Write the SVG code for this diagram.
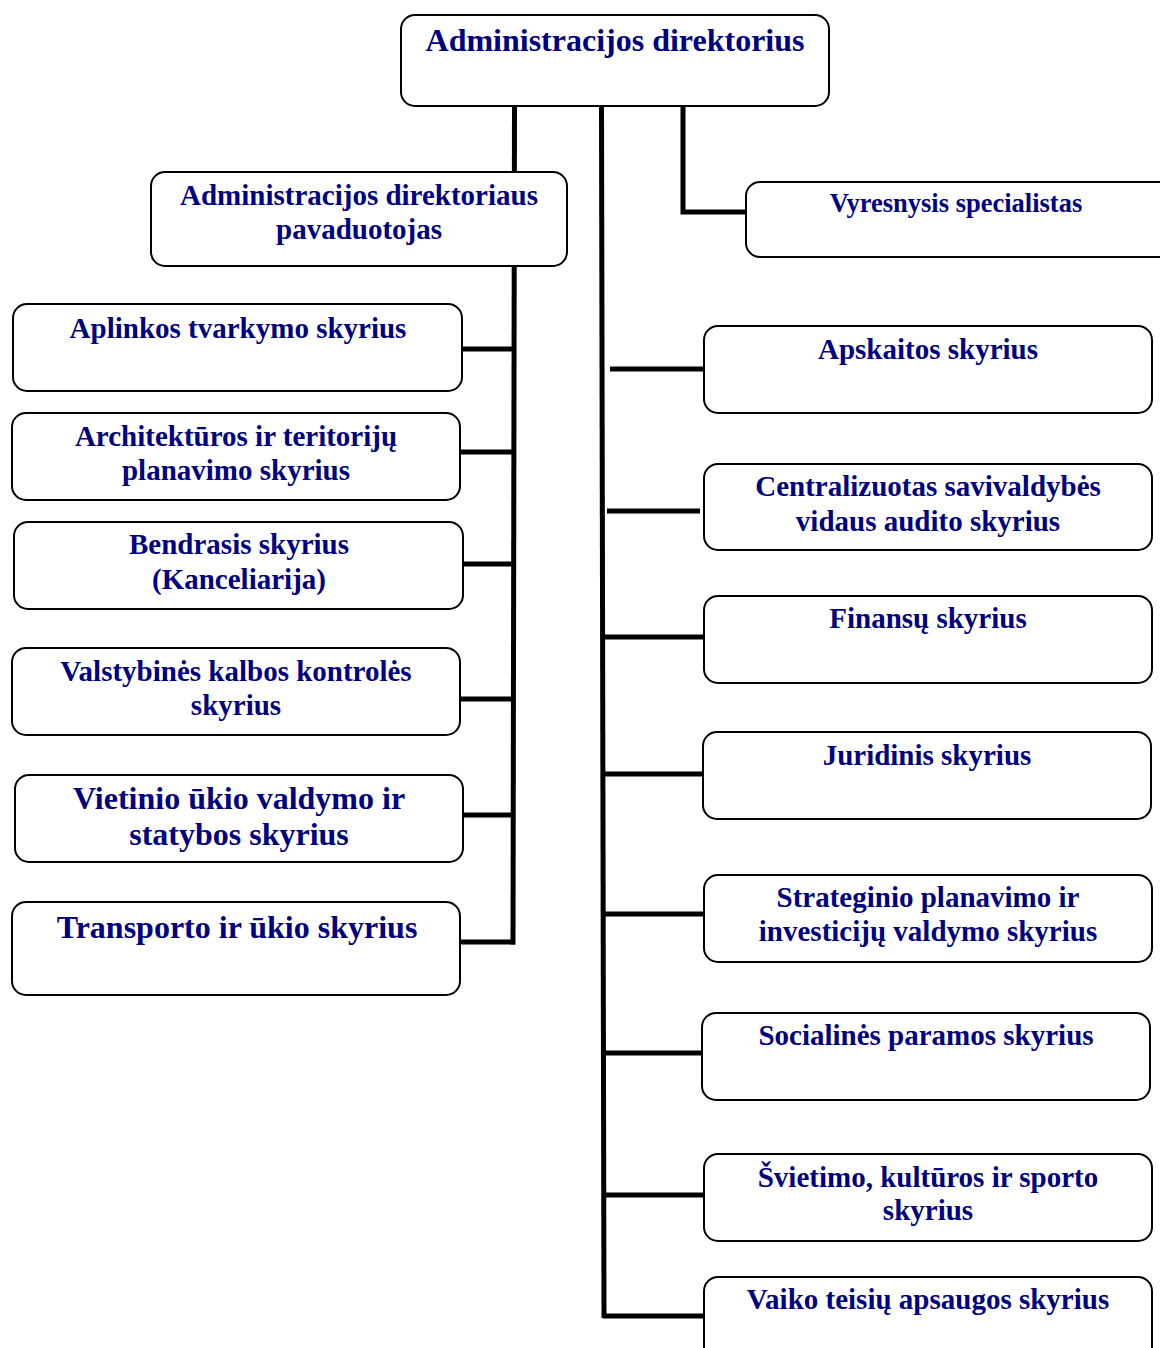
<svg xmlns="http://www.w3.org/2000/svg" width="1160" height="1348" viewBox="0 0 1160 1348">
<style>
.box{fill:#fff;stroke:#000;stroke-width:2}
.t{font-family:"Liberation Serif","Times New Roman",serif;font-weight:bold;fill:#000080;text-anchor:middle;font-size:29px}
.big{font-size:32px}
.sm{font-size:26.5px}
.c{stroke:#000;stroke-width:5;fill:none;stroke-linecap:butt}
</style>
<rect width="1160" height="1348" fill="#fff"/>
<g id="connectors">
<line class="c" x1="514.5" y1="106" x2="513" y2="944.5"/>
<line class="c" x1="601.5" y1="106" x2="604" y2="1318"/>
<polyline class="c" points="683,106 683,212 746,212"/>
<line class="c" x1="462" y1="349" x2="513" y2="349"/>
<line class="c" x1="460" y1="452" x2="513" y2="452"/>
<line class="c" x1="463" y1="564" x2="513" y2="564"/>
<line class="c" x1="460" y1="699" x2="513" y2="699"/>
<line class="c" x1="463" y1="815" x2="513" y2="815"/>
<line class="c" x1="460" y1="942" x2="515" y2="942"/>
<line class="c" x1="610" y1="369" x2="704" y2="369"/>
<line class="c" x1="607" y1="511" x2="700" y2="511"/>
<line class="c" x1="603" y1="637" x2="704" y2="637"/>
<line class="c" x1="603" y1="774" x2="703" y2="774"/>
<line class="c" x1="603" y1="914" x2="704" y2="914"/>
<line class="c" x1="603" y1="1053" x2="702" y2="1053"/>
<line class="c" x1="603" y1="1195" x2="704" y2="1195"/>
<line class="c" x1="603" y1="1316" x2="704" y2="1316"/>
</g>
<g id="n-direktorius"><rect class="box" x="401" y="15" width="428" height="91" rx="14"/><text class="t big" x="615" y="51">Administracijos direktorius</text></g>
<g id="n-pavaduotojas"><rect class="box" x="151" y="172" width="416" height="94" rx="14"/><text class="t" x="359" y="205">Administracijos direktoriaus</text><text class="t" x="359" y="239">pavaduotojas</text></g>
<g id="n-vyresnysis"><rect class="box" x="746" y="182" width="430" height="75" rx="14"/><text class="t sm" x="956" y="212">Vyresnysis specialistas</text></g>
<g id="n-aplinkos"><rect class="box" x="13" y="304" width="449" height="87" rx="14"/><text class="t" x="238" y="338">Aplinkos tvarkymo skyrius</text></g>
<g id="n-architekturos"><rect class="box" x="12" y="413" width="448" height="87" rx="14"/><text class="t" x="236" y="446">Architektūros ir teritorijų</text><text class="t" x="236" y="480">planavimo skyrius</text></g>
<g id="n-bendrasis"><rect class="box" x="14" y="522" width="449" height="87" rx="14"/><text class="t" x="239" y="554">Bendrasis skyrius</text><text class="t" x="239" y="589">(Kanceliarija)</text></g>
<g id="n-valstybines"><rect class="box" x="12" y="648" width="448" height="87" rx="14"/><text class="t" x="236" y="681">Valstybinės kalbos kontrolės</text><text class="t" x="236" y="715">skyrius</text></g>
<g id="n-vietinio"><rect class="box" x="15" y="775" width="448" height="87" rx="14"/><text class="t big" x="239" y="809">Vietinio ūkio valdymo ir</text><text class="t big" x="239" y="845">statybos skyrius</text></g>
<g id="n-transporto"><rect class="box" x="12" y="902" width="448" height="93" rx="14"/><text class="t big" x="237" y="938">Transporto ir ūkio skyrius</text></g>
<g id="n-apskaitos"><rect class="box" x="704" y="326" width="448" height="87" rx="14"/><text class="t" x="928" y="359">Apskaitos skyrius</text></g>
<g id="n-audito"><rect class="box" x="704" y="464" width="448" height="86" rx="14"/><text class="t" x="928" y="496">Centralizuotas savivaldybės</text><text class="t" x="928" y="531">vidaus audito skyrius</text></g>
<g id="n-finansu"><rect class="box" x="704" y="596" width="448" height="87" rx="14"/><text class="t" x="928" y="628">Finansų skyrius</text></g>
<g id="n-juridinis"><rect class="box" x="703" y="732" width="448" height="87" rx="14"/><text class="t" x="927" y="765">Juridinis skyrius</text></g>
<g id="n-strateginio"><rect class="box" x="704" y="875" width="448" height="87" rx="14"/><text class="t" x="928" y="907">Strateginio planavimo ir</text><text class="t" x="928" y="941">investicijų valdymo skyrius</text></g>
<g id="n-socialines"><rect class="box" x="702" y="1013" width="448" height="87" rx="14"/><text class="t" x="926" y="1045">Socialinės paramos skyrius</text></g>
<g id="n-svietimo"><rect class="box" x="704" y="1154" width="448" height="87" rx="14"/><text class="t" x="928" y="1187">Švietimo, kultūros ir sporto</text><text class="t" x="928" y="1220">skyrius</text></g>
<g id="n-vaiko"><rect class="box" x="704" y="1277" width="448" height="90" rx="14"/><text class="t" x="928" y="1309">Vaiko teisių apsaugos skyrius</text></g>
</svg>
